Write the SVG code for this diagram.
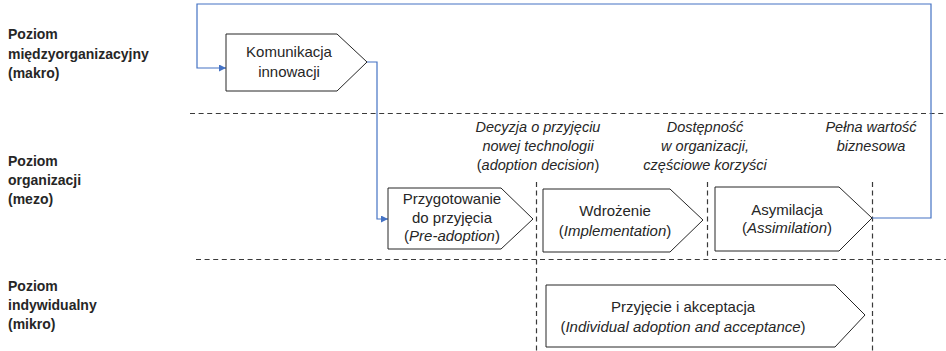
<svg xmlns="http://www.w3.org/2000/svg" width="946" height="351" viewBox="0 0 946 351">
  <style>
    .lvl { font-family: "Liberation Sans", Arial, sans-serif; font-size: 14px; font-weight: bold; fill: #262626; }
    .box { fill: #ffffff; stroke: #262626; stroke-width: 1; }
    .lbl { font-family: "Liberation Sans", Arial, sans-serif; font-size: 15px; fill: #262626; text-anchor: middle; }
    .note { font-family: "Liberation Sans", Arial, sans-serif; font-size: 14.5px; font-style: italic; fill: #262626; text-anchor: middle; }
    .sep { stroke: #3a3a3a; stroke-width: 1.2; stroke-dasharray: 5 3.6; fill: none; }
    .flow { stroke: #4472C4; stroke-width: 1.2; fill: none; }
  </style>
  <defs>
    <marker id="arrow" viewBox="0 0 10 10" refX="10" refY="5" markerWidth="7" markerHeight="7" markerUnits="userSpaceOnUse" orient="auto">
      <path d="M0,0 L10,5 L0,10 z" fill="#4472C4"/>
    </marker>
  </defs>

  <rect width="946" height="351" fill="#ffffff"/>

  <!-- level separators and milestones -->
  <g id="separators">
    <line class="sep" x1="190" y1="113.5" x2="946" y2="113.5"/>
    <line class="sep" x1="196" y1="259.5" x2="946" y2="259.5"/>
    <line class="sep" x1="536.5" y1="182" x2="536.5" y2="351"/>
    <line class="sep" x1="707.5" y1="182" x2="707.5" y2="259"/>
    <line class="sep" x1="872.5" y1="182" x2="872.5" y2="351"/>
  </g>

  <!-- level labels -->
  <g id="level-macro">
    <text class="lvl" x="8" y="39">Poziom</text>
    <text class="lvl" x="8" y="58.5">międzyorganizacyjny</text>
    <text class="lvl" x="8" y="78">(makro)</text>
  </g>
  <g id="level-meso">
    <text class="lvl" x="8" y="166">Poziom</text>
    <text class="lvl" x="8" y="185">organizacji</text>
    <text class="lvl" x="8" y="204">(mezo)</text>
  </g>
  <g id="level-micro">
    <text class="lvl" x="8" y="291">Poziom</text>
    <text class="lvl" x="8" y="310">indywidualny</text>
    <text class="lvl" x="8" y="329">(mikro)</text>
  </g>

  <!-- milestone notes -->
  <g id="note-decision">
    <text class="note" x="538" y="132">Decyzja o przyjęciu</text>
    <text class="note" x="538" y="151">nowej technologii</text>
    <text class="note" x="538" y="170"><tspan font-style="normal">(</tspan>adoption decision<tspan font-style="normal">)</tspan></text>
  </g>
  <g id="note-availability">
    <text class="note" x="705" y="132">Dostępność</text>
    <text class="note" x="705" y="151">w organizacji,</text>
    <text class="note" x="705" y="170">częściowe korzyści</text>
  </g>
  <g id="note-value">
    <text class="note" x="871" y="132">Pełna wartość</text>
    <text class="note" x="871" y="151">biznesowa</text>
  </g>

  <!-- connectors -->
  <g id="connectors">
    <polyline class="flow" points="872,218 931,218 931,4 197,4 197,68 226,68" marker-end="url(#arrow)"/>
    <polyline class="flow" points="367,62 377,62 377,219 388,219" marker-end="url(#arrow)"/>
  </g>

  <!-- stage nodes -->
  <g id="communication">
    <path class="box" d="M226,34 H337 L367,62 L337,91 H226 Z"/>
    <text class="lbl" x="289" y="57">Komunikacja</text>
    <text class="lbl" x="289" y="77">innowacji</text>
  </g>
  <g id="pre-adoption">
    <path class="box" d="M388,188 H501 L533,219 L501,249 H388 Z"/>
    <text class="lbl" x="452" y="204">Przygotowanie</text>
    <text class="lbl" x="452" y="223">do przyjęcia</text>
    <text class="lbl" x="452" y="241">(<tspan font-style="italic">Pre-adoption</tspan>)</text>
  </g>
  <g id="implementation">
    <path class="box" d="M543,189 H670 L703,220 L670,252 H543 Z"/>
    <text class="lbl" x="615" y="216">Wdrożenie</text>
    <text class="lbl" x="615" y="236">(<tspan font-style="italic">Implementation</tspan>)</text>
  </g>
  <g id="assimilation">
    <path class="box" d="M715,187 H839 L872,218 L839,251 H715 Z"/>
    <text class="lbl" x="787" y="215">Asymilacja</text>
    <text class="lbl" x="787" y="233">(<tspan font-style="italic">Assimilation</tspan>)</text>
  </g>
  <g id="individual-adoption">
    <path class="box" d="M546,285 H835 L865,315 L835,347 H546 Z"/>
    <text class="lbl" x="683" y="312">Przyjęcie i akceptacja</text>
    <text class="lbl" x="683" y="332">(<tspan font-style="italic">Individual adoption and acceptance</tspan>)</text>
  </g>
</svg>
